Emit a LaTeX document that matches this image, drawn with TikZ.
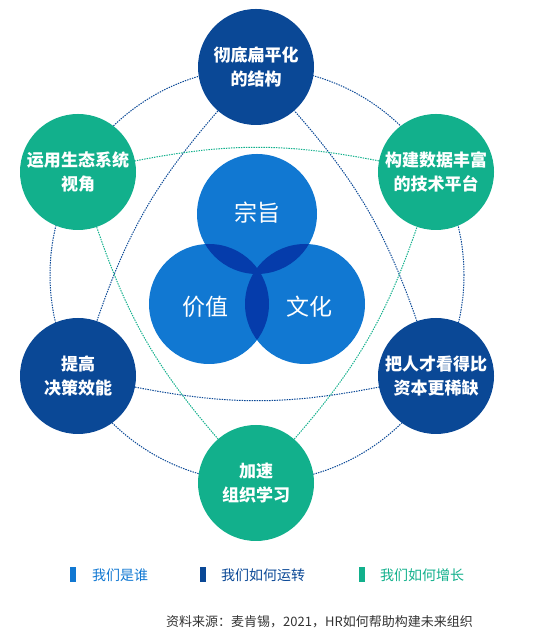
\documentclass[tikz,border=0pt]{standalone}
\usepackage{fontspec}
\newfontfamily\cjk{Noto Sans CJK SC}
\usetikzlibrary{calc}
\definecolor{whoblue}{HTML}{1178D2}
\definecolor{overlapblue}{HTML}{053CAB}
\definecolor{runblue}{HTML}{0A4896}
\definecolor{growgreen}{HTML}{12B08C}
\definecolor{sourcegray}{HTML}{333333}
\tikzset{
    hexnode/.style={circle, minimum size=116pt, inner sep=0pt, align=center, text=white,
        font=\cjk\bfseries\fontsize{17}{24}\selectfont},
    runnode/.style={hexnode, fill=runblue},
    grownode/.style={hexnode, fill=growgreen},
    vennnode/.style={circle, minimum size=120pt, inner sep=0pt, fill=whoblue, text=white,
        font=\cjk\fontsize{22}{26}\selectfont},
    vennlabel/.style={text=white, font=\cjk\fontsize{23}{26}\selectfont},
    runline/.style={runblue, line width=1pt, dash pattern=on 1.4pt off 1.1pt},
    growline/.style={growgreen, line width=1pt, dash pattern=on 1.4pt off 1.1pt},
    legendbar/.style={minimum width=6pt, minimum height=15pt, inner sep=0pt},
    legendtext/.style={anchor=west, inner sep=0pt, font=\cjk\fontsize{14}{16}\selectfont}
}

\begin{document}
\begin{tikzpicture}[x=1pt, y=1pt]
    \useasboundingbox (0,0) rectangle (553,642);

    % outer ring
    \coordinate (ringcentre) at (257,367);
    \draw[runline] (ringcentre) circle (207);

    % six outer circles
    \node[runnode] (flat) at (256,575) {彻底扁平化\\的结构};
    \node[grownode] (eco) at (78,470) {运用生态系统\\视角};
    \node[grownode] (data) at (436,470) {构建数据丰富\\的技术平台};
    \node[runnode] (decide) at (78,266) {提高\\决策效能};
    \node[runnode] (talent) at (436,266) {把人才看得比\\资本更稀缺};
    \node[grownode] (learn) at (256,159) {加速\\组织学习};

    % curved triangles
    \draw[runline] (flat) to[bend right=11] (decide);
    \draw[runline] (decide) to[bend right=11] (talent);
    \draw[runline] (talent) to[bend right=11] (flat);
    \draw[growline] (eco) to[bend right=11] (learn);
    \draw[growline] (learn) to[bend right=11] (data);
    \draw[growline] (data) to[bend right=11] (eco);

    % venn in the middle
    \node[vennnode] (purpose) at (257,428) {};
    \node[vennnode] (value) at (209,338) {};
    \node[vennnode] (culture) at (305,338) {};
    \begin{scope}
        \clip (purpose.center) circle (60);
        \fill[overlapblue] (value.center) circle (60);
        \fill[overlapblue] (culture.center) circle (60);
    \end{scope}
    \begin{scope}
        \clip (value.center) circle (60);
        \fill[overlapblue] (culture.center) circle (60);
    \end{scope}
    \node[vennlabel] (purposetext) at (257,429) {宗旨};
    \node[vennlabel] (valuetext) at (205,335) {价值};
    \node[vennlabel] (culturetext) at (309,335) {文化};

    % legend
    \node[legendbar, fill=whoblue] (barwho) at (73,67) {};
    \node[legendtext, text=whoblue] (who) at (92,67) {我们是谁};
    \node[legendbar, fill=runblue] (barrun) at (203,67) {};
    \node[legendtext, text=runblue] (run) at (221,67) {我们如何运转};
    \node[legendbar, fill=growgreen] (bargrow) at (362,67) {};
    \node[legendtext, text=growgreen] (grow) at (380,67) {我们如何增长};

    % source
    \node[anchor=west, inner sep=0pt, text=sourcegray, font=\cjk\fontsize{13}{15}\selectfont] (source) at (166,20)
        {资料来源：麦肯锡，2021，HR如何帮助构建未来组织};
\end{tikzpicture}
\end{document}
